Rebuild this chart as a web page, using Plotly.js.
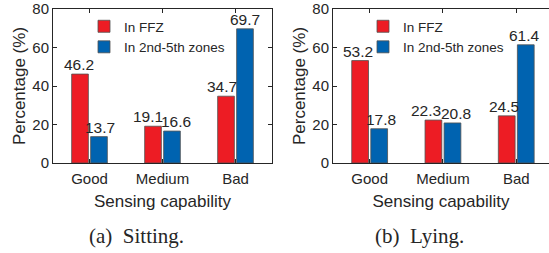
<!DOCTYPE html>
<html>
<head>
<meta charset="utf-8">
<script src="https://cdn.plot.ly/plotly-3.0.1.min.js"></script>
<style>html,body{margin:0;padding:0;background:#fff;}#chart{width:549px;height:253px;}</style>
</head>
<body>
<div id="chart"></div>
<script>
const categories = ['Good', 'Medium', 'Bad'];
const sittingFFZ = [46.2, 19.1, 34.7];
const sittingOther = [13.7, 16.6, 69.7];
const lyingFFZ = [53.2, 22.3, 24.5];
const lyingOther = [17.8, 20.8, 61.4];
const seriesNames = ['In FFZ', 'In 2nd-5th zones'];
const captions = ['(a)  Sitting.', '(b)  Lying.'];
const yTicks = [0, 20, 40, 60, 80];

const W = 549, H = 253;
const RED = '#ED1C24', BLUE = '#0063B0', INK = '#262626';
const FONT = '"Liberation Sans", Arial, Helvetica, sans-serif';
const SERIF = '"Liberation Serif", "Times New Roman", serif';

// styling: px offset of each bar in its group and small label nudges per category
const SLOT = 9.5;
const nudgeSitting = [[-1, -5, -4], [1, 4, 0]];
const nudgeLying = [[-2, -7, -3], [2, 4, -1]];

function barTrace(vals, name, color, xa, ya, leg) {
  return {
    type: 'bar', x: categories, y: vals, name: name,
    xaxis: xa, yaxis: ya, legend: leg,
    marker: {color: color, line: {color: '#505050', width: 0.8}},
    hoverinfo: 'skip'
  };
}

const data = [
  barTrace(sittingFFZ, seriesNames[0], RED, 'x', 'y', 'legend'),
  barTrace(sittingOther, seriesNames[1], BLUE, 'x', 'y', 'legend'),
  barTrace(lyingFFZ, seriesNames[0], RED, 'x2', 'y2', 'legend2'),
  barTrace(lyingOther, seriesNames[1], BLUE, 'x2', 'y2', 'legend2')
];

function labels(series, xa, ya, nudge) {
  const out = [];
  series.forEach((vals, s) => {
    vals.forEach((v, i) => {
      out.push({
        text: v.toFixed(1), x: categories[i], y: v, xref: xa, yref: ya,
        showarrow: false, xanchor: 'center', yanchor: 'bottom',
        xshift: (s === 0 ? -SLOT : SLOT) + nudge[s][i], yshift: -1,
        font: {size: 15.5, color: INK, family: FONT}
      });
    });
  });
  return out;
}

const py = v => 1 - v / H;
const yDom = [py(163), py(9)];

function xAxis(domain, range) {
  return {
    domain: domain, type: 'category', range: range,
    showline: true, linecolor: INK, linewidth: 1, mirror: 'ticks',
    ticks: 'inside', ticklen: 4, tickcolor: INK, ticklabelstandoff: 2,
    tickfont: {size: 15, color: INK, family: FONT},
    title: {text: 'Sensing capability', font: {size: 17, color: INK, family: FONT}, standoff: 9},
    showgrid: false, zeroline: false, fixedrange: true
  };
}
function yAxis(anchor, mirror) {
  return {
    domain: yDom, anchor: anchor, range: [0, 80], tickvals: yTicks,
    showline: true, linecolor: INK, linewidth: 1, mirror: mirror,
    ticks: 'inside', ticklen: 4, tickcolor: INK,
    tickfont: {size: 15, color: INK, family: FONT},
    title: {text: 'Percentage (%)', font: {size: 17, color: INK, family: FONT}, standoff: 2},
    showgrid: false, zeroline: false, fixedrange: true
  };
}

const legStyle = (x) => ({
  x: x, y: py(11), xanchor: 'left', yanchor: 'top',
  bgcolor: 'rgba(0,0,0,0)', borderwidth: 0,
  font: {size: 13.5, color: INK, family: FONT},
  tracegroupgap: 0, itemwidth: 30
});

const layout = {
  width: W, height: H,
  margin: {l: 0, r: 0, t: 0, b: 0},
  paper_bgcolor: '#fff', plot_bgcolor: '#fff',
  barmode: 'group', bargap: 0.48, bargroupgap: 0.12,
  showlegend: true,
  xaxis: Object.assign(xAxis([53 / W, 272 / W], [-0.5, 2.5]), {anchor: 'y'}),
  yaxis: yAxis('x', 'ticks'),
  xaxis2: Object.assign(xAxis([333 / W, 1], [-0.5, -0.5 + 216 / 73.3]), {anchor: 'y2'}),
  yaxis2: yAxis('x2', false),
  legend: legStyle(84 / W),
  legend2: legStyle(363 / W),
  annotations: [
    ...labels([sittingFFZ, sittingOther], 'x', 'y', nudgeSitting),
    ...labels([lyingFFZ, lyingOther], 'x2', 'y2', nudgeLying),
    {text: captions[0], x: 136 / W, y: py(236), xref: 'paper', yref: 'paper', showarrow: false,
     xanchor: 'center', yanchor: 'middle', font: {size: 21, color: INK, family: SERIF}},
    {text: captions[1], x: 419 / W, y: py(236), xref: 'paper', yref: 'paper', showarrow: false,
     xanchor: 'center', yanchor: 'middle', font: {size: 21, color: INK, family: SERIF}}
  ]
};

Plotly.newPlot('chart', data, layout, {staticPlot: true, displayModeBar: false});
</script>
</body>
</html>
